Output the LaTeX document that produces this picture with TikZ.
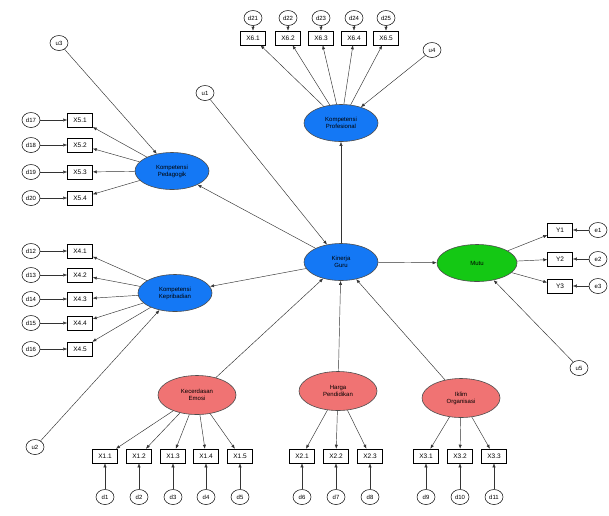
\documentclass[tikz,border=0pt]{standalone}
\usepackage{fontspec}
\setmainfont{Liberation Sans}
\usetikzlibrary{shapes.geometric,arrows.meta}
\definecolor{latblue}{RGB}{20,120,245}
\definecolor{latgreen}{RGB}{20,200,20}
\definecolor{latpink}{RGB}{240,115,115}
\tikzset{
  obs/.style={draw, line width=0.5pt, fill=white, minimum width=25pt, minimum height=14pt, inner sep=0pt, font=\fontsize{6.5}{6.5}\selectfont},
  err/.style={ellipse, draw, line width=0.5pt, fill=white, minimum width=18pt, minimum height=15pt, inner sep=0pt, font=\fontsize{6}{6}\selectfont},
  lat/.style={ellipse, draw=black!70, line width=0.6pt, minimum width=74pt, minimum height=37pt, inner sep=0pt, align=center, font=\fontsize{6}{7}\selectfont},
  blu/.style={lat, fill=latblue},
  grn/.style={lat, fill=latgreen, minimum width=80pt},
  pnk/.style={lat, fill=latpink, minimum width=78pt, minimum height=39pt},
  arr/.style={-{Latex[length=4pt,width=3.2pt]}, line width=0.45pt, draw=black!80},
}
\begin{document}
\begin{tikzpicture}[x=1pt,y=-1pt]
\useasboundingbox[fill=white] (0,0) rectangle (609,515);
% latent variables
\node[blu] (top) at (341,123) {Kompetensi\\Profesional};
\node[blu] (lu) at (172,171) {Kompetensi\\Pedagogik};
\node[blu] (ll) at (175,293) {Kompetensi\\Kepribadian};
\node[blu] (cen) at (341,262) {Kinerja\\Guru};
\node[grn] (grn) at (477,263) {Mutu};
\node[pnk] (b1) at (197,395) {Kecerdasan\\Emosi};
\node[pnk] (b2) at (338,391) {Harga\\Pendidikan};
\node[pnk] (b3) at (461,398) {Iklim\\Organisasi};
% disturbances
\node[err] (u1) at (205,93) {u1};
\node[err] (u2) at (35,447) {u2};
\node[err] (u3) at (59,43) {u3};
\node[err] (u4) at (432,50) {u4};
\node[err] (u5) at (579,368) {u5};
% top indicators
\foreach \i/\x/\d in {1/253/21,2/288/22,3/321/23,4/354/24,5/386/25}{
  \node[obs] (x6\i) at (\x,38) {X6.\i};
  \node[err] (d\d) at (\x,18) {d\d};
  \draw[arr] (d\d) -- (x6\i);
  \draw[arr] (top) -- (x6\i);
}
% left upper indicators
\foreach \i/\y/\d in {1/120/17,2/145/18,3/172/19,4/198/20}{
  \node[obs] (x5\i) at (80,\y) {X5.\i};
  \node[err] (d\d) at (31,\y) {d\d};
  \draw[arr] (d\d) -- (x5\i);
  \draw[arr] (lu) -- (x5\i);
}
% left lower indicators
\foreach \i/\y/\d in {1/251/12,2/275/13,3/299/14,4/323/15,5/349/16}{
  \node[obs] (x4\i) at (80,\y) {X4.\i};
  \node[err] (d\d) at (31,\y) {d\d};
  \draw[arr] (d\d) -- (x4\i);
  \draw[arr] (ll) -- (x4\i);
}
% green indicators
\foreach \i/\y in {1/230,2/259,3/286}{
  \node[obs] (y\i) at (560,\y) {Y\i};
  \node[err] (e\i) at (598,\y) {e\i};
  \draw[arr] (e\i) -- (y\i);
  \draw[arr] (grn) -- (y\i);
}
% bottom-left indicators
\foreach \i/\x in {1/105,2/139,3/173,4/206,5/240}{
  \node[obs] (x1\i) at (\x,456) {X1.\i};
  \node[err] (d\i) at (\x,497) {d\i};
  \draw[arr] (d\i) -- (x1\i);
  \draw[arr] (b1) -- (x1\i);
}
% bottom-middle indicators
\foreach \i/\x/\d in {1/302/6,2/336/7,3/370/8}{
  \node[obs] (x2\i) at (\x,456) {X2.\i};
  \node[err] (d\d) at (\x,497) {d\d};
  \draw[arr] (d\d) -- (x2\i);
  \draw[arr] (b2) -- (x2\i);
}
% bottom-right indicators
\foreach \i/\x/\d in {1/426/9,2/460/10,3/494/11}{
  \node[obs] (x3\i) at (\x,456) {X3.\i};
  \node[err] (d\d) at (\x,497) {d\d};
  \draw[arr] (d\d) -- (x3\i);
  \draw[arr] (b3) -- (x3\i);
}
% structural paths
\draw[arr] (cen) -- (top);
\draw[arr] (cen) -- (lu);
\draw[arr] (cen) -- (ll);
\draw[arr] (cen) -- (grn);
\draw[arr] (b1) -- (cen);
\draw[arr] (b2) -- (cen);
\draw[arr] (b3) -- (cen);
\draw[arr] (u1) -- (cen);
\draw[arr] (u2) -- (ll);
\draw[arr] (u3) -- (lu);
\draw[arr] (u4) -- (top);
\draw[arr] (u5) -- (grn);
\end{tikzpicture}
\end{document}
